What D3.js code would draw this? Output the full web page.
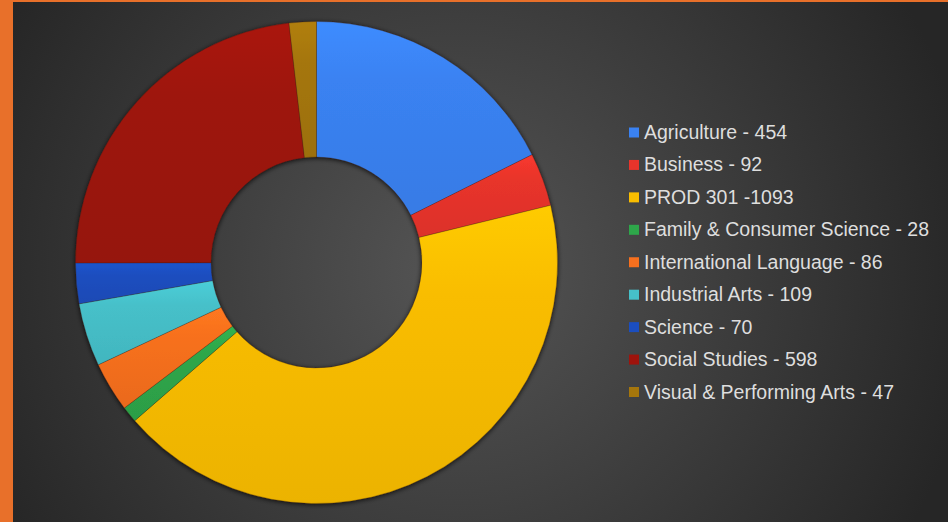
<!DOCTYPE html>
<html>
<head>
<meta charset="utf-8">
<script src="https://cdn.jsdelivr.net/npm/d3@7"></script>
<style>
  html, body { margin: 0; padding: 0; background: #e8702a; }
  #chart { width: 948px; height: 522px; }
</style>
</head>
<body>
<div id="chart"></div>
<script>
// data
const categories = ["Agriculture", "Business", "PROD 301", "Family & Consumer Science",
  "International Language", "Industrial Arts", "Science", "Social Studies", "Visual & Performing Arts"];
const values = [454, 92, 1093, 28, 86, 109, 70, 598, 47];
const legendLabels = ["Agriculture - 454", "Business - 92", "PROD 301 -1093", "Family & Consumer Science - 28",
  "International Language - 86", "Industrial Arts - 109", "Science - 70", "Social Studies - 598",
  "Visual & Performing Arts - 47"];
const colors = ["#3a82f2", "#e8342b", "#f9bd00", "#2ea64a", "#f7701e", "#46c0c9", "#1b4ebf", "#9e130c", "#a5760c"];

const width = 948, height = 522;
const cx = 316.5, cy = 262.5;
const outerR = 241, innerR = 105.5;

const svg = d3.select("#chart").append("svg")
  .attr("width", width)
  .attr("height", height);

const defs = svg.append("defs");

// background gradient (lighter round the middle)
const bg = defs.append("radialGradient")
  .attr("id", "bg")
  .attr("gradientUnits", "userSpaceOnUse")
  .attr("cx", 460).attr("cy", 270).attr("r", 520);
bg.append("stop").attr("offset", "0%").attr("stop-color", "#555555");
bg.append("stop").attr("offset", "100%").attr("stop-color", "#262626");

// soft shadow round the ring
const shadow = defs.append("filter").attr("id", "shadow")
  .attr("x", "-10%").attr("y", "-10%").attr("width", "120%").attr("height", "120%");
shadow.append("feGaussianBlur").attr("in", "SourceAlpha").attr("stdDeviation", 2.5);
shadow.append("feOffset").attr("dx", 0).attr("dy", 1).attr("result", "blur");
shadow.append("feComponentTransfer").append("feFuncA").attr("type", "linear").attr("slope", 0.8);
const merge = shadow.append("feMerge");
merge.append("feMergeNode");
merge.append("feMergeNode").attr("in", "SourceGraphic");

// one vertical gradient per slice, a bit lighter at the top
colors.forEach((c, i) => {
  const g = defs.append("linearGradient")
    .attr("id", "grad" + i)
    .attr("x1", 0).attr("y1", 0).attr("x2", 0).attr("y2", 1);
  g.append("stop").attr("offset", "0%").attr("stop-color", d3.color(c).brighter(0.2));
  g.append("stop").attr("offset", "30%").attr("stop-color", c);
  g.append("stop").attr("offset", "100%").attr("stop-color", d3.color(c).darker(0.15));
});

svg.append("rect")
  .attr("x", 13).attr("y", 2)
  .attr("width", width - 13).attr("height", height - 2)
  .attr("fill", "url(#bg)");

const pie = d3.pie().sort(null).value(d => d);
const arc = d3.arc().innerRadius(innerR).outerRadius(outerR);

const ring = svg.append("g")
  .attr("transform", `translate(${cx},${cy})`)
  .attr("filter", "url(#shadow)");

ring.selectAll("path")
  .data(pie(values))
  .join("path")
  .attr("d", arc)
  .attr("fill", (d, i) => `url(#grad${i})`)
  .attr("stroke", "rgba(60,30,20,0.45)")
  .attr("stroke-width", 0.6);

// legend
const rowY = d3.scalePoint()
  .domain(d3.range(categories.length))
  .range([132.5, 392]);

const legend = svg.append("g");
const rows = legend.selectAll("g")
  .data(categories)
  .join("g")
  .attr("transform", (d, i) => `translate(629,${rowY(i)})`);

rows.append("rect")
  .attr("x", 0).attr("y", -5)
  .attr("width", 10).attr("height", 10)
  .attr("fill", (d, i) => colors[i]);

rows.append("text")
  .attr("x", 15)
  .attr("y", 6.5)
  .attr("fill", "#dedede")
  .attr("font-family", "'Liberation Sans', Arial, sans-serif")
  .attr("font-size", "19.5px")
  .text((d, i) => legendLabels[i]);
</script>
</body>
</html>
